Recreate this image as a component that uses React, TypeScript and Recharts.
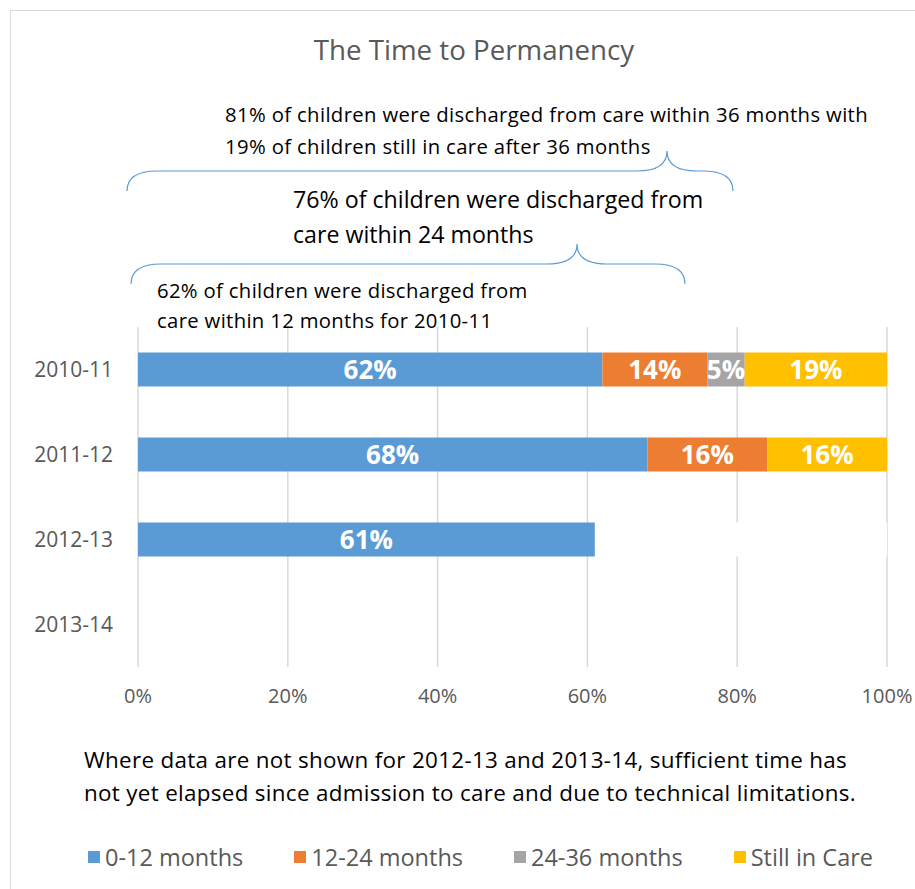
import React from 'react';
import { BarChart, Bar, XAxis, YAxis, CartesianGrid, LabelList } from 'recharts';

const categories = ['2010-11', '2011-12', '2012-13', '2013-14'];
const months0to12 = [62, 68, 61, 0];
const months12to24 = [14, 16, 0, 0];
const months24to36 = [5, 0, 0, 0];
const stillInCare = [19, 16, 0, 0];
// white filler that hides the not-yet-available part of 2012-13
const notShown = [0, 0, 39, 0];
const xTicks = [0, 20, 40, 60, 80, 100];

const series = [
  { key: '0-12 months', values: months0to12, color: '#5B9BD5' },
  { key: '12-24 months', values: months12to24, color: '#ED7D31' },
  { key: '24-36 months', values: months24to36, color: '#A5A5A5' },
  { key: 'Still in Care', values: stillInCare, color: '#FFC000' },
];

const FONT = '"Open Sans", Lato, sans-serif';

const chartData = categories.map((year, i) => {
  const row: Record<string, string | number> = { year, notShown: notShown[i] };
  series.forEach((s) => {
    row[s.key] = s.values[i];
  });
  return row;
});

const pct = (v: unknown) => (v ? `${v}%` : '');

// curly brace opening upward, tip at xTip
function bracePath(x1: number, x2: number, yEnd: number, yMid: number, xTip: number, yTip: number) {
  const r = 30;
  return [
    `M ${x1} ${yEnd}`,
    `Q ${x1} ${yMid} ${x1 + r} ${yMid}`,
    `L ${xTip - r} ${yMid}`,
    `Q ${xTip} ${yMid} ${xTip} ${yTip}`,
    `Q ${xTip} ${yMid} ${xTip + r} ${yMid}`,
    `L ${x2 - r} ${yMid}`,
    `Q ${x2} ${yMid} ${x2} ${yEnd}`,
  ].join(' ');
}

export default function App() {
  return (
    <div style={{ position: 'fixed', left: 0, top: 0, width: 915, height: 889, background: '#fff', overflow: 'hidden', fontFamily: FONT }}>
      <div style={{ position: 'absolute', left: 10, top: 10, width: 920, height: 900, border: '1px solid #d9d9d9', boxSizing: 'border-box' }} />
      <div style={{ position: 'absolute', left: 0, top: 0 }}>
        <BarChart
          width={915}
          height={889}
          layout="vertical"
          data={chartData}
          margin={{ top: 327, right: 28, bottom: 182, left: 0 }}
          barCategoryGap="30%"
        >
          <CartesianGrid horizontal={false} stroke="#d9d9d9" strokeWidth={1.5} />
          <XAxis
            type="number"
            domain={[0, 100]}
            ticks={xTicks}
            tickFormatter={(v) => `${v}%`}
            axisLine={false}
            tickLine={false}
            tickSize={0}
            tickMargin={22}
            height={40}
            tick={{ fill: '#595959', fontSize: 20, fontFamily: FONT }}
          />
          <YAxis
            type="category"
            dataKey="year"
            width={138}
            axisLine={false}
            tickLine={false}
            tickSize={0}
            tickMargin={25}
            tick={{ fill: '#595959', fontSize: 21, fontFamily: FONT }}
          />
          {series.map((s) => (
            <Bar key={s.key} dataKey={s.key} stackId="a" fill={s.color} isAnimationActive={false}>
              <LabelList
                dataKey={s.key}
                position="center"
                formatter={pct}
                fill="#fff"
                fontSize={26}
                fontWeight="bold"
                fontFamily={FONT}
              />
            </Bar>
          ))}
          <Bar dataKey="notShown" stackId="a" fill="#ffffff" isAnimationActive={false} />
        </BarChart>
      </div>
      <svg width={915} height={889} style={{ position: 'absolute', left: 0, top: 0, pointerEvents: 'none' }} fontFamily={FONT}>
        <text x={474} y={60} textAnchor="middle" fontSize={27.7} fill="#595959">The Time to Permanency</text>
        <text x={225} y={122} fontSize={20.3} letterSpacing={0.36} fill="#000">81% of children were discharged from care within 36 months with</text>
        <text x={225} y={154} fontSize={20.3} letterSpacing={0.36} fill="#000">19% of children still in care after 36 months</text>
        <path d={bracePath(127, 733, 191, 171, 667, 151)} fill="none" stroke="#5B9BD5" strokeWidth={1.2} />
        <text x={293} y={208} fontSize={23.2} fill="#000">76% of children were discharged from</text>
        <text x={293} y={243} fontSize={23.2} fill="#000">care within 24 months</text>
        <path d={bracePath(131, 685, 284, 264, 577, 244)} fill="none" stroke="#5B9BD5" strokeWidth={1.2} />
        <text x={157} y={298} fontSize={20.3} letterSpacing={0.33} fill="#000">62% of children were discharged from</text>
        <text x={157} y={328} fontSize={20.3} letterSpacing={0.33} fill="#000">care within 12 months for 2010-11</text>
        <text x={84} y={768} fontSize={22.4} letterSpacing={0.32} fill="#000">Where data are not shown for 2012-13 and 2013-14, sufficient time has</text>
        <text x={84} y={801} fontSize={22.4} letterSpacing={0.32} fill="#000">not yet elapsed since admission to care and due to technical limitations.</text>
      </svg>
      <div style={{ position: 'absolute', left: 88, top: 842, display: 'flex', gap: 51, color: '#595959', fontSize: 23.5, lineHeight: '30px', whiteSpace: 'nowrap' }}>
        {series.map((s) => (
          <div key={s.key} style={{ display: 'flex', alignItems: 'center' }}>
            <span style={{ width: 12, height: 12, background: s.color, marginRight: 5, display: 'inline-block' }} />
            {s.key}
          </div>
        ))}
      </div>
    </div>
  );
}
